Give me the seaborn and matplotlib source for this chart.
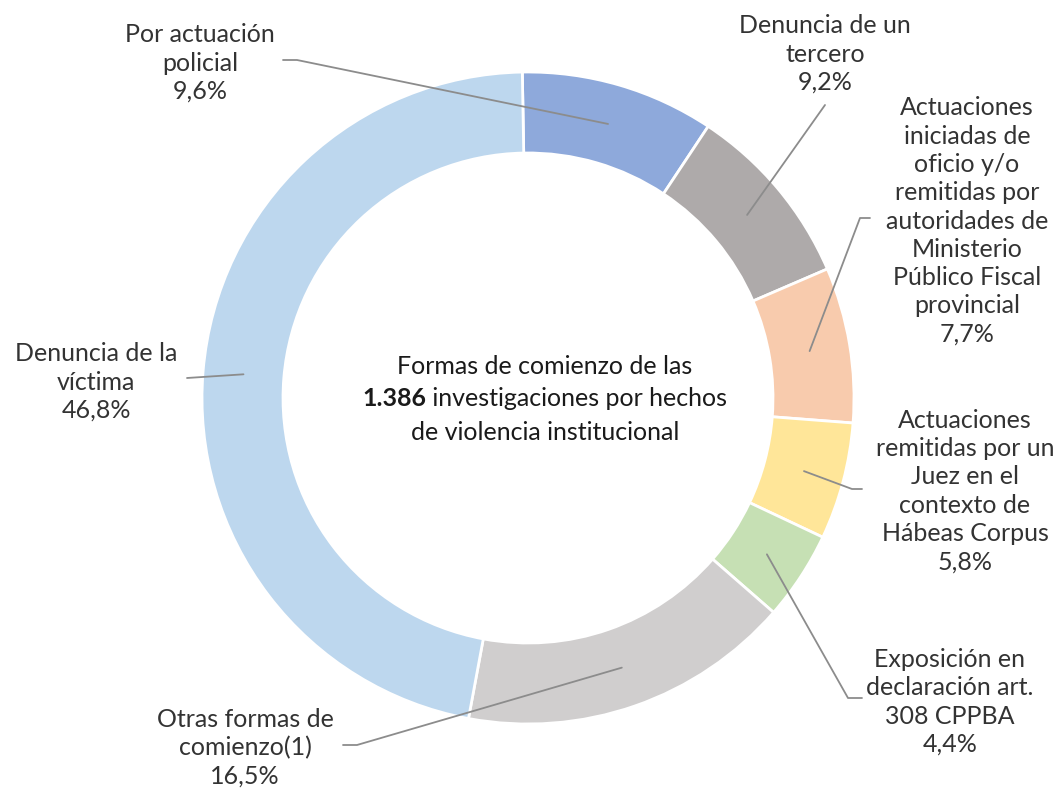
import numpy as np
import matplotlib
matplotlib.use("Agg")
import matplotlib.pyplot as plt
import seaborn as sns

# Data (clockwise from the top of the ring)
categories = [
    "Por actuación\npolicial",
    "Denuncia de un\ntercero",
    "Actuaciones\niniciadas de\noficio y/o\nremitidas por\nautoridades de\nMinisterio\nPúblico Fiscal\nprovincial",
    "Actuaciones\nremitidas por un\nJuez en el\ncontexto de\nHábeas Corpus",
    "Exposición en\ndeclaración art.\n308 CPPBA",
    "Otras formas de\ncomienzo(1)",
    "Denuncia de la\nvíctima",
]
shares = [9.6, 9.2, 7.7, 5.8, 4.4, 16.5, 46.8]
total_cases = "1.386"

colors = ["#8EA9DB", "#AEAAAA", "#F8CBAD", "#FFE699", "#C6E0B4", "#D0CECE", "#BDD7EE"]

# Layout (pixel coordinates, y downwards)
W, H = 1061, 789
center = (528, 398)
r_out, r_in = 326, 245
label_pos = [(200, 63), (825, 54), (967, 221), (965, 491), (950, 702), (245, 748), (96, 382)]
leader_start = [(283, 60), (825, 105), (870, 218), (862, 489), (862, 698), (343, 745), (187, 378)]
leader_elbow = [(297, 60), (825, 105), (860, 218), (852, 489), (848, 698), (357, 745), (187, 378)]

sns.set_theme(style="white")
plt.rcParams["font.family"] = ["Lato", "DejaVu Sans"]
txt_color = "#333333"
fs = 18

fig = plt.figure(figsize=(W / 100, H / 100), dpi=100)
ax = fig.add_axes([0, 0, 1, 1])

# y axis inverted -> counterclock=True is visually clockwise, 270 is the top
wedges, _ = ax.pie(shares, colors=colors, center=center, radius=r_out,
                   startangle=269, counterclock=True,
                   wedgeprops=dict(width=r_out - r_in, edgecolor="white", linewidth=2))
ax.set_xlim(0, W)
ax.set_ylim(H, 0)
ax.set_aspect("equal")
ax.axis("off")

r_mid = (r_out + r_in) / 2
for w, lab, val, pos, s, e in zip(wedges, categories, shares, label_pos, leader_start, leader_elbow):
    ang = np.deg2rad((w.theta1 + w.theta2) / 2)
    px = center[0] + r_mid * np.cos(ang)
    py = center[1] + r_mid * np.sin(ang)
    ax.plot([s[0], e[0], px], [s[1], e[1], py], color="#8C8C8C", lw=1.3, zorder=3)
    pct = f"{val:.1f}".replace(".", ",") + "%"
    ax.text(pos[0], pos[1], f"{lab}\n{pct}", ha="center", va="center",
            fontsize=fs, color=txt_color, linespacing=1.28)

# Center text with the bold count
cx = 545
ax.text(cx, 366, "Formas de comienzo de las", ha="center", va="center", fontsize=fs, color="#1a1a1a")
ax.text(cx, 432, "de violencia institucional", ha="center", va="center", fontsize=fs, color="#1a1a1a")
t_bold = ax.text(0, 398, total_cases, ha="left", va="center", fontsize=fs, fontweight="bold", color="#1a1a1a")
t_rest = ax.text(0, 398, " investigaciones por hechos", ha="left", va="center", fontsize=fs, color="#1a1a1a")
renderer = fig.canvas.get_renderer()
wb = t_bold.get_window_extent(renderer).width
wr = t_rest.get_window_extent(renderer).width
x0 = cx - (wb + wr) / 2
t_bold.set_x(x0)
t_rest.set_x(x0 + wb)

plt.savefig("out.png", dpi=100)
plt.close()
